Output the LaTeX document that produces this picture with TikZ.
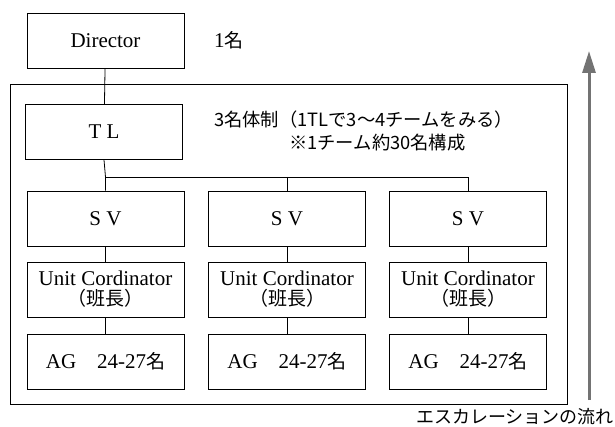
\documentclass[tikz,border=0pt]{standalone}
\usepackage{fontspec}
\setmainfont{Liberation Serif}
\newfontfamily\jp{Noto Sans CJK JP}
\usetikzlibrary{arrows.meta}
\begin{document}
\begin{tikzpicture}[x=1pt,y=-1pt,
  box/.style={draw, line width=0.8pt, minimum width=157pt, minimum height=55pt, inner sep=0pt, font=\fontsize{21}{20}\selectfont, align=center},
  conn/.style={line width=0.8pt},
  note/.style={font=\jp\fontsize{18.3}{20}\selectfont, anchor=west, inner sep=0pt}]
\useasboundingbox (0,0) rectangle (615,427);
\draw[line width=0.8pt] (10,84) rectangle (567,404);
\node[box] (dir) at (105.5,40.5) {Director};
\node[note, font=\fontsize{21}{22}\selectfont] (n1) at (214,40) {1{\jp\fontsize{19}{20}\selectfont 名}};
\node[box] (tl) at (104,132) {T L};
\node[note] (n2) at (214,120) {3名体制（1TLで3～4チームをみる）};
\node[note] (n3) at (289,143) {※1チーム約30名構成};
\foreach \i/\x in {1/105.5,2/287,3/468}{
  \node[box] (sv\i) at (\x,218.5) {S V};
  \node[box] (uc\i) at (\x,289.5) {Unit Cordinator\\{\jp\fontsize{19}{20}\selectfont （班長）}};
  \node[box] (ag\i) at (\x,361.5) {AG\hspace{1em}24-27{\jp\fontsize{19}{20}\selectfont 名}};
  \draw[conn] (sv\i) -- (uc\i);
  \draw[conn] (uc\i) -- (ag\i);
}
\coordinate (bus1) at (sv1.north |- 0,177);
\coordinate (bus2) at (sv2.north |- 0,177);
\coordinate (bus3) at (sv3.north |- 0,177);
\draw[conn] (dir) -- (tl);
\draw[conn] (tl.south) -- (bus1) -- (sv1.north);
\draw[conn] (bus1) -- (bus3) -- (sv3.north);
\draw[conn] (bus2) -- (sv2.north);
\coordinate (ab) at (589,400);
\coordinate (at) at (589,51);
\draw[line width=3pt, draw=black!55, -{Triangle[length=22pt,width=13pt]}] (ab) -- (at);
\node[note, anchor=east, font=\jp\fontsize{18}{20}\selectfont, text=black] (esc) at (614,417) {エスカレーションの流れ};
\end{tikzpicture}
\end{document}
